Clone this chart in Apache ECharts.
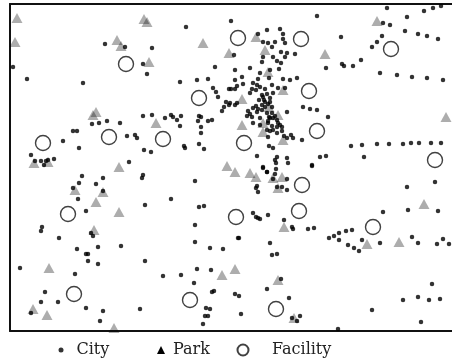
<!DOCTYPE html>
<html><head><meta charset="utf-8">
<script src="https://cdn.jsdelivr.net/npm/echarts@6/dist/echarts.min.js"></script>
<style>html,body{margin:0;padding:0;background:#fff}#c{width:452px;height:363px}</style>
</head><body><div id="c"></div>
<script>
// map units (x east, y south)
const cities = [
[186,27],[105,44],[125,47],[152,48],[13,67],[143,64],[147,74],[215,67],[27,79],[83,83],[180,82],[197,80],[208,79],[213,88],[216,92],[218,97],[229,89],[226,102],[224,107],[222,111],[229,105],[199,116],[201,117],[198,121],[201,127],[201,133],[208,121],[212,120],[143,116],[152,115],[165,118],[171,115],[173,117],[177,120],[181,116],[180,126],[92,124],[99,123],[107,121],[120,123],[73,131],[77,131],[63,141],[79,148],[127,136],[135,135],[137,138],[144,150],[151,152],[184,146],[185,148],[199,144],[204,149],[31,155],[35,161],[41,161],[46,161],[44,165],[48,160],[54,159],[129,162],
[387,8],[424,11],[433,8],[441,6],[317,16],[407,17],[231,21],[383,23],[390,25],[280,29],[267,30],[405,31],[418,34],[427,36],[438,39],[341,37],[382,36],[258,34],[283,34],[283,39],[263,42],[268,43],[275,42],[285,43],[377,42],[372,47],[272,47],[234,55],[281,52],[287,53],[295,54],[285,57],[273,57],[263,57],[262,62],[277,61],[281,63],[342,64],[344,66],[353,66],[361,60],[326,68],[235,70],[250,68],[260,73],[270,70],[279,69],[380,73],[397,75],[412,77],[427,78],[443,80],[297,78],[235,80],[242,77],[253,83],[258,79],[269,78],[283,79],[290,80],[272,85],[278,88],[285,88],[231,89],[235,89],[252,89],[256,90],[260,87],[265,89],[235,105],[250,93],[262,95],[267,94],[273,93],[270,98],[264,100],[259,100],[270,102],[268,104],[262,105],[256,106],[253,108],[258,109],[265,107],[272,107],[248,111],[250,114],[252,117],[267,113],[272,113],[269,117],[270,118],[273,118],[277,120],[278,123],[280,125],[287,112],[303,107],[310,109],[317,110],[328,117],[253,123],[260,125],[268,123],[272,126],[273,130],[282,127],[270,131],[277,133],[291,135],[293,138],[302,140],[284,136],[269,146],[273,148],[257,156],[277,157],[276,163],[263,167],[288,163],[312,165],[320,157],[326,156],[351,146],[362,145],[377,144],[389,144],[403,144],[411,143],[419,143],[431,143],[441,143],[364,157],
[237,86],[257,85],[263,97],[265,102],[262,110],[257,112],[247,116],[260,118],[275,116],[268,121],[277,127],[267,130],[282,131],[287,138],[268,137],[275,160],[287,158],[267,172],[275,174],[257,186],[277,187],[243,84],[230,103],[237,103],
[82,176],[103,178],[79,183],[73,188],[96,184],[143,175],[142,178],[195,181],[103,191],[78,199],[171,199],[145,205],[199,207],[204,206],[86,211],[42,227],[41,231],[59,238],[91,233],[93,236],[195,225],[195,242],[98,247],[77,249],[86,254],[88,254],[121,246],[210,248],[223,249],[88,261],[98,264],[145,261],[20,268],[75,274],[163,276],[181,275],[197,269],[211,270],[194,283],[45,292],[58,302],[41,302],[31,313],[86,308],[103,311],[100,321],[140,309],[212,292],[214,291],[206,308],[210,309],[205,316],[208,316],[203,324],
[312,166],[263,168],[267,172],[276,169],[273,179],[287,179],[282,187],[287,190],[256,188],[258,192],[253,213],[256,217],[258,218],[260,219],[268,215],[284,220],[292,227],[293,229],[308,229],[314,228],[383,212],[407,187],[435,182],[408,210],[438,211],[412,237],[418,243],[437,244],[443,239],[449,244],[380,243],[362,240],[329,238],[334,236],[339,233],[346,231],[352,230],[339,240],[348,245],[354,248],[359,251],[238,238],[239,238],[270,243],[272,255],[277,254],[281,279],[267,289],[235,294],[239,296],[289,298],[241,314],[292,318],[297,321],[300,316],[338,329],[372,310],[432,284],[403,300],[418,297],[429,300],[440,299],[421,322]
];
const parks = [
[17,18],[15,42],[144,19],[147,22],[117,40],[121,46],[203,43],[149,62],[229,53],[256,37],[265,50],[325,54],[377,21],[268,72],[283,90],[242,99],[269,107],[278,115],[242,125],[263,123],[263,132],[283,140],[446,117],[96,112],[93,115],[156,123],[34,163],[48,162],[119,167],[227,166],[235,172],[250,173],[256,177],[273,178],[282,177],[278,188],[284,227],[424,204],[399,242],[367,244],[235,269],[222,275],[278,280],[294,318],[75,190],[103,192],[96,202],[119,212],[94,230],[49,268],[33,309],[47,315],[114,328]
];
const facilities = [
[238,38],[301,39],[126,64],[391,49],[199,98],[309,91],[43,143],[109,137],[163,139],[317,131],[244,143],[435,160],[302,185],[68,214],[236,217],[299,211],[373,227],[74,294],[190,300],[276,309]
];
const legendNames = ['City','Park','Facility'];

const chart = echarts.init(document.getElementById('c'), null, {renderer:'canvas'});
const font = 'DejaVu Serif';
const leg = (data, left, w, padLeft) => ({
  data:data, left:left, top:342, itemWidth:w, itemHeight:w, padding:0,
  textStyle:{fontFamily:font, fontSize:16, color:'#222', padding:[0,0,0,padLeft]}, selectedMode:false
});
const frameLine = {show:true, lineStyle:{color:'#111', width:2}};
const axisBase = {type:'value', min:10, max:452, axisLine:frameLine, axisTick:{show:false}, axisLabel:{show:false}, splitLine:{show:false}};
chart.setOption({
  animation:false,
  grid:{left:10, top:4, right:0, height:327, show:false},
  xAxis:[Object.assign({position:'bottom'}, axisBase), Object.assign({position:'top'}, axisBase)],
  yAxis:{type:'value', min:4, max:331, inverse:true, axisLine:Object.assign({onZero:false}, frameLine), axisTick:{show:false}, axisLabel:{show:false}, splitLine:{show:false}},
  legend:[
    leg([legendNames[0]], 58.5, 5, 8),
    leg([{name:legendNames[1], itemStyle:{color:'#000', opacity:1}}], 157, 8, 3),
    leg([legendNames[2]], 236.5, 11, 18.5)
  ],
  series:[
    {name:legendNames[0], type:'scatter', data:cities, symbol:'circle', symbolSize:4.5, itemStyle:{color:'#000'}, z:2},
    {name:legendNames[1], type:'scatter', data:parks, symbol:'triangle', symbolSize:[11,10], itemStyle:{color:'rgba(0,0,0,0.4)'}, z:3},
    {name:legendNames[2], type:'scatter', data:facilities, symbol:'circle', symbolSize:15, itemStyle:{color:'rgba(0,0,0,0)', borderColor:'#111', borderWidth:1.4}, z:4}
  ]
});
</script></body></html>
